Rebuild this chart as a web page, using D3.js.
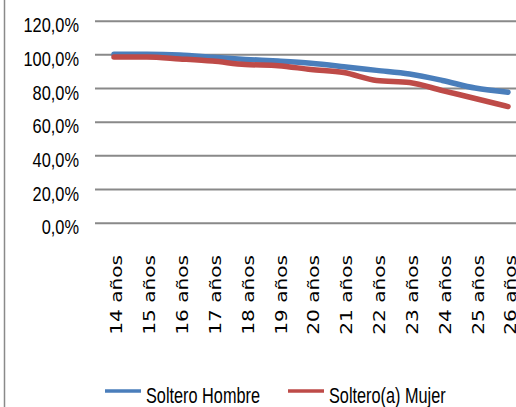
<!DOCTYPE html>
<html>
<head>
<meta charset="utf-8">
<script src="https://cdn.jsdelivr.net/npm/d3@7"></script>
<style>
  body { margin: 0; background: #fff; }
  svg { display: block; }
</style>
</head>
<body>
<svg id="chart"></svg>
<script>
// chart size, same as the window
var width = 516,
    height = 407;

// categories and the two series (share of singles, in %)
var edades = ["14 años", "15 años", "16 años", "17 años", "18 años", "19 años", "20 años",
              "21 años", "22 años", "23 años", "24 años", "25 años", "26 años"];
var solteroHombre = [100, 100, 99.6, 98.3, 97, 96, 94.7, 92.7, 90.5, 88.3, 84.5, 80, 77.5];
var solteraMujer  = [98.5, 98.4, 97.3, 96, 94, 93.3, 91, 89.2, 84.5, 83.3, 78.5, 73.8, 69];
var yTicks = [0, 20, 40, 60, 80, 100, 120];
var seriesNames = ["Soltero Hombre", "Soltero(a) Mujer"];
var colors = ["#4a7ebb", "#be4b48"];

var svg = d3.select("#chart")
            .attr("width", width)
            .attr("height", height);

// spanish style numbers: 120,0%
var es = d3.formatLocale({decimal: ",", thousands: ".", grouping: [3], currency: ["", " €"]});
var pct = es.format(".1%");

var plotLeft = 95,
    plotRight = 521;

var xScale = d3.scalePoint()
               .domain(edades)
               .range([114, 508]);

var yScale = d3.scaleLinear()
               .domain([0, 120])
               .range([222.7, 20.7]);

// chart area border on the left
svg.append("line")
   .attr("x1", 4.5).attr("x2", 4.5)
   .attr("y1", 0).attr("y2", height)
   .attr("stroke", "#8a8a8a")
   .attr("stroke-width", 1.5);

// y axis with gridlines
var yAxis = d3.axisLeft(yScale)
              .tickValues(yTicks)
              .tickSize(-(plotRight - plotLeft))
              .tickPadding(20.5)
              .tickFormat(function(d) { return pct(d / 100); });

var gy = svg.append("g")
            .attr("transform", "translate(" + plotLeft + ",0)")
            .call(yAxis);
gy.select(".domain").remove();
gy.selectAll(".tick line")
  .attr("stroke", "#898989")
  .attr("stroke-width", 2);
gy.selectAll(".tick text")
  .attr("fill", "#000")
  .attr("dy", "0.53em")
  .attr("transform", "scale(0.78,1)")
  .style("font-family", "'Liberation Sans', Arial, sans-serif")
  .style("font-size", "21px");

// x labels, rotated
svg.append("g")
   .selectAll("text")
   .data(edades)
   .enter().append("text")
   .attr("transform", function(d) {
     return "translate(" + (xScale(d) + 3) + ",255) rotate(-90) scale(1.34,1)";
   })
   .attr("text-anchor", "end")
   .attr("dy", "0.36em")
   .attr("fill", "#000")
   .style("font-family", "'DejaVu Sans', Verdana, sans-serif")
   .style("font-size", "15px")
   .text(function(d) { return d; });

// the two lines
var line = d3.line()
             .x(function(d, i) { return xScale(edades[i]); })
             .y(function(d) { return yScale(d); })
             .curve(d3.curveMonotoneX);

[solteroHombre, solteraMujer].forEach(function(serie, k) {
  svg.append("path")
     .datum(serie)
     .attr("d", line)
     .attr("fill", "none")
     .attr("stroke", colors[k])
     .attr("stroke-width", 5.5)
     .attr("stroke-linecap", "round")
     .attr("stroke-linejoin", "round");
});

// legend
var legendX = [105, 288];
var legend = svg.append("g");
seriesNames.forEach(function(name, k) {
  legend.append("line")
        .attr("x1", legendX[k]).attr("x2", legendX[k] + 36)
        .attr("y1", 391).attr("y2", 391)
        .attr("stroke", colors[k])
        .attr("stroke-width", 3.5);
  legend.append("text")
        .attr("transform", "translate(" + (legendX[k] + 41) + ",402.5) scale(0.74,1)")
        .attr("fill", "#000")
        .style("font-family", "'Liberation Sans', Arial, sans-serif")
        .style("font-size", "22px")
        .text(name);
});
</script>
</body>
</html>
